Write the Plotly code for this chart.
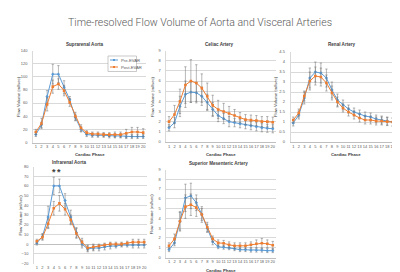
import plotly.graph_objects as go

W, H = 400, 272

phase = list(range(1, 21))
phase_labels = [str(i) for i in phase]
series_names = ["Pre-EVAR", "Post-EVAR"]

panel_titles = ["Suprarenal Aorta", "Celiac Artery", "Renal Artery",
                "Infrarenal Aorta", "Superior Mesenteric Artery"]

# Suprarenal Aorta
supra_pre = [12, 27, 70, 104, 104, 84, 65, 38, 20, 12, 11, 11, 11, 10, 10, 10, 9, 9, 9, 9]
supra_pre_err = [3, 4, 9, 15, 13, 10, 5, 5, 4, 3, 3, 3, 3, 3, 3, 3, 3, 3, 3, 3]
supra_post = [16, 29, 58, 85, 89, 79, 61, 40, 22, 15, 13, 13, 12, 12, 12, 12, 14, 16, 16, 15]
supra_post_err = [4, 8, 10, 10, 8, 8, 6, 6, 5, 3, 3, 3, 3, 3, 4, 4, 6, 7, 7, 6]
supra_ticks = [0, 20, 40, 60, 80, 100, 120, 140]

# Celiac Artery
celiac_pre = [1.4, 1.9, 3.5, 4.7, 4.9, 4.85, 4.5, 3.9, 3.2, 2.6, 2.3, 2.0, 1.9, 1.8, 1.7, 1.6, 1.5, 1.4, 1.35, 1.3]
celiac_pre_err = [0.3, 0.5, 1.0, 1.3, 1.0, 1.0, 0.9, 0.8, 0.7, 0.6, 0.5, 0.5, 0.4, 0.4, 0.4, 0.4, 0.4, 0.4, 0.4, 0.4]
celiac_post = [2.0, 2.7, 4.0, 5.6, 6.0, 5.8, 5.3, 4.5, 3.6, 3.2, 3.0, 2.8, 2.6, 2.4, 2.2, 2.15, 2.1, 2.0, 2.0, 1.95]
celiac_post_err = [0.5, 0.9, 1.2, 1.8, 2.1, 1.8, 1.4, 1.3, 1.0, 0.9, 0.8, 0.7, 0.6, 0.5, 0.5, 0.5, 0.5, 0.5, 0.5, 0.5]
celiac_ticks = [0, 1, 2, 3, 4, 5, 6, 7, 8, 9]

# Renal Artery
renal_pre = [0.95, 1.35, 2.2, 3.2, 3.5, 3.45, 3.2, 2.6, 2.1, 1.85, 1.65, 1.5, 1.4, 1.3, 1.25, 1.15, 1.1, 1.05, 1.0, 1.0]
renal_pre_err = [0.15, 0.2, 0.3, 0.5, 0.5, 0.5, 0.45, 0.4, 0.3, 0.25, 0.2, 0.2, 0.2, 0.2, 0.2, 0.2, 0.2, 0.2, 0.2, 0.2]
renal_post = [1.1, 1.45, 2.3, 3.05, 3.3, 3.25, 2.95, 2.45, 2.0, 1.7, 1.5, 1.35, 1.2, 1.1, 1.1, 1.05, 1.05, 1.02, 1.0, 1.0]
renal_post_err = [0.15, 0.2, 0.25, 0.45, 0.45, 0.45, 0.4, 0.35, 0.25, 0.2, 0.2, 0.2, 0.2, 0.2, 0.2, 0.2, 0.2, 0.2, 0.2, 0.2]
renal_ticks = [0, 0.5, 1, 1.5, 2, 2.5, 3, 3.5, 4, 4.5]

# Infrarenal Aorta
infra_pre = [1, 8, 28, 60, 60, 45, 28, 12, 0, -5, -4, -4, -3, -2, -2, -1, -1, -1, -1, -1]
infra_pre_err = [2, 3, 11, 9, 7, 7, 7, 5, 4, 3, 3, 3, 3, 3, 2, 2, 2, 3, 3, 3]
infra_post = [3, 7, 21, 37, 42, 36, 25, 11, 2, -4, -3, -2, -1, 0, 0, 0, 1, 2, 2, 2]
infra_post_err = [2, 3, 5, 7, 8, 6, 5, 5, 4, 3, 3, 2, 2, 2, 2, 2, 2, 3, 3, 3]
infra_ticks = [-20, -10, 0, 10, 20, 30, 40, 50, 60, 70, 80]
infra_sig_phase = [4, 5]
infra_sig_level = [74, 74]

# Superior Mesenteric Artery
sma_pre = [0.8, 1.5, 3.7, 6.1, 6.3, 5.6, 4.4, 3.0, 1.6, 1.1, 1.05, 1.0, 0.9, 0.8, 0.8, 0.75, 0.75, 0.75, 0.7, 0.7]
sma_pre_err = [0.2, 0.3, 0.9, 1.4, 1.3, 0.8, 0.6, 0.4, 0.3, 0.2, 0.2, 0.2, 0.2, 0.2, 0.2, 0.2, 0.2, 0.2, 0.2, 0.2]
sma_post = [1.2, 1.9, 3.7, 5.2, 5.4, 5.1, 4.4, 3.1, 1.9, 1.5, 1.45, 1.3, 1.2, 1.2, 1.2, 1.3, 1.4, 1.45, 1.4, 1.25]
sma_post_err = [0.3, 0.5, 1.0, 1.2, 1.1, 0.9, 0.8, 0.5, 0.3, 0.3, 0.3, 0.3, 0.3, 0.3, 0.3, 0.3, 0.4, 0.5, 0.4, 0.4]
sma_ticks = [0, 1, 2, 3, 4, 5, 6, 7, 8, 9]

BLUE = "#5B9BD5"
ORANGE = "#ED7D31"
GRID = "#D9D9D9"
TXT = "#595959"
FONT = "Liberation Sans, Arial, sans-serif"

def fx(p):
    return p / W

def fy(p):
    return 1 - p / H

panels = [
    dict(x=(25, 138), y=(42.5, 134.5), ticks=supra_ticks, pre=supra_pre, pre_e=supra_pre_err,
         post=supra_post, post_e=supra_post_err, title_xy=(77, 36.5), xt_y=146.5),
    dict(x=(158.3, 267.5), y=(42.5, 134), ticks=celiac_ticks, pre=celiac_pre, pre_e=celiac_pre_err,
         post=celiac_post, post_e=celiac_post_err, title_xy=(211, 37), xt_y=146.5),
    dict(x=(282.5, 393), y=(44, 134), ticks=renal_ticks, pre=renal_pre, pre_e=renal_pre_err,
         post=renal_post, post_e=renal_post_err, title_xy=(334, 37), xt_y=146.5),
    dict(x=(26, 139), y=(158.5, 255.5), ticks=infra_ticks, pre=infra_pre, pre_e=infra_pre_err,
         post=infra_post, post_e=infra_post_err, title_xy=(61, 154), xt_y=265),
    dict(x=(158.3, 267.5), y=(161.5, 249.5), ticks=sma_ticks, pre=sma_pre, pre_e=sma_pre_err,
         post=sma_post, post_e=sma_post_err, title_xy=(210, 155.5), xt_y=262.5),
]

fig = go.Figure()
annotations = []
shapes = []

for i, p in enumerate(panels):
    n = "" if i == 0 else str(i + 1)
    xa, ya = "x" + n, "y" + n
    for vals, errs, color, sym, name in [
        (p["pre"], p["pre_e"], BLUE, "diamond", series_names[0]),
        (p["post"], p["post_e"], ORANGE, "square", series_names[1]),
    ]:
        fig.add_trace(go.Scatter(
            x=phase, y=vals, xaxis=xa, yaxis=ya, mode="lines+markers", name=name,
            showlegend=False,
            line=dict(color=color, width=1.0),
            marker=dict(color=color, symbol=sym, size=2.6),
            error_y=dict(type="data", array=errs, visible=True, color="#6F6F6F",
                         thickness=0.5, width=1.2),
        ))
    ticks = p["ticks"]
    fig.layout["xaxis" + n] = dict(
        domain=[fx(p["x"][0]), fx(p["x"][1])], anchor=ya, range=[0.5, 20.5],
        tickvals=phase, ticktext=phase_labels, showgrid=False, zeroline=False,
        showline=(i != 3), linecolor="#BFBFBF", linewidth=0.7, ticks="",
        tickangle=0, automargin=False,
        tickfont=dict(size=4, color=TXT, family=FONT), ticklabelstandoff=0,
    )
    fig.layout["yaxis" + n] = dict(
        domain=[fy(p["y"][1]), fy(p["y"][0])], anchor=xa,
        range=[ticks[0], ticks[-1]], tickvals=ticks,
        showgrid=True, gridcolor=GRID, gridwidth=0.6,
        zeroline=(i == 3), zerolinecolor="#BFBFBF", zerolinewidth=0.7,
        showline=True, linecolor=GRID, linewidth=0.6, ticks="", automargin=False,
        tickfont=dict(size=4, color=TXT, family=FONT), ticklabelstandoff=4,
    )
    annotations.append(dict(
        text="<b>" + panel_titles[i] + "</b>", x=fx(p["title_xy"][0]), y=fy(p["title_xy"][1]),
        xref="paper", yref="paper", showarrow=False, xanchor="center", yanchor="middle",
        font=dict(size=4.6, color="#404040", family=FONT),
    ))
    annotations.append(dict(
        text="<b>Cardiac Phase</b>", x=fx((p["x"][0] + p["x"][1]) / 2), y=fy(p["xt_y"]),
        xref="paper", yref="paper", showarrow=False, xanchor="center", yanchor="middle",
        font=dict(size=4.3, color="#404040", family=FONT), borderpad=0,
    ))
    annotations.append(dict(
        text="Flow Volume (ml/sec)", x=fx(p["x"][0] - 14.5), y=fy((p["y"][0] + p["y"][1]) / 2),
        xref="paper", yref="paper", showarrow=False, textangle=-90,
        xanchor="center", yanchor="middle",
        font=dict(size=4.2, color="#404040", family=FONT),
    ))

for xs, ys in zip(infra_sig_phase, infra_sig_level):
    annotations.append(dict(
        text="<b>*</b>", x=xs, y=ys, xref="x4", yref="y4", showarrow=False,
        font=dict(size=9, color="#404040", family=FONT), yanchor="middle",
    ))

annotations.append(dict(
    text="Time-resolved Flow Volume of Aorta and Visceral Arteries",
    x=fx(191.5), y=fy(14.5), xref="paper", yref="paper", showarrow=False,
    xanchor="center", yanchor="middle",
    font=dict(size=10.5, color="#595959", family="Roboto", weight=300),
))

lx0, ly0, lx1, ly1 = 100, 48, 128.5, 63.5
shapes.append(dict(type="rect", xref="paper", yref="paper",
                   x0=fx(lx0), x1=fx(lx1), y0=fy(ly1), y1=fy(ly0),
                   line=dict(color="#A6A6A6", width=0.6), fillcolor="white"))
for k, (name, color) in enumerate(zip(series_names, [BLUE, ORANGE])):
    yy = ly0 + 4 + k * 7
    shapes.append(dict(type="line", xref="paper", yref="paper",
                       x0=fx(lx0 + 2), x1=fx(lx0 + 10), y0=fy(yy), y1=fy(yy),
                       line=dict(color=color, width=1.0)))
    shapes.append(dict(type="rect", xref="paper", yref="paper",
                       x0=fx(lx0 + 5), x1=fx(lx0 + 7), y0=fy(yy + 1), y1=fy(yy - 1),
                       line=dict(width=0), fillcolor=color))
    annotations.append(dict(
        text=name, x=fx(lx0 + 11), y=fy(yy), xref="paper", yref="paper",
        showarrow=False, xanchor="left", yanchor="middle",
        font=dict(size=4.2, color=TXT, family=FONT),
    ))

fig.update_layout(
    width=W, height=H, margin=dict(l=0, r=0, t=0, b=0),
    paper_bgcolor="white", plot_bgcolor="white",
    annotations=annotations, shapes=shapes, showlegend=False,
)

fig.write_html("out.html")
